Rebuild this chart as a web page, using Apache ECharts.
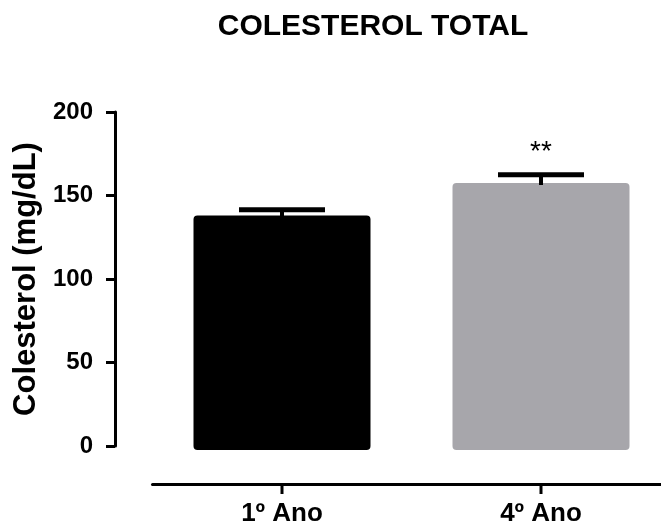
<!DOCTYPE html>
<html>
<head>
<meta charset="utf-8">
<script src="https://cdn.jsdelivr.net/npm/echarts@6/dist/echarts.min.js"></script>
<style>
html,body{margin:0;padding:0;background:#fff;}
#c{width:661px;height:526px;}
</style>
</head>
<body>
<div id="c"></div>
<script>
const categories = ['1º Ano', '4º Ano'];
const means = [138, 157.5];
const errors = [3.5, 5];
const marks = ['', '**'];
const barColors = ['#000000', '#a7a6ab'];
const yTicks = [0, 50, 100, 150, 200];

const FONT = '"Liberation Sans", Arial, sans-serif';
const X_OFFSET = 38;
const chart = echarts.init(document.getElementById('c'));

const barData = categories.map((c, i) => [i, means[i]]);
const errData = categories.map((c, i) => [i, means[i], means[i] + errors[i], marks[i]]);

chart.setOption({
  animation: false,
  backgroundColor: '#fff',
  title: {
    text: 'COLESTEROL TOTAL',
    left: 368, top: 7, textAlign: 'center',
    textStyle: { fontFamily: FONT, fontWeight: 'bold', fontSize: 30, color: '#000' }
  },
  grid: { left: 152.5, width: 518, top: 112, height: 334, containLabel: false, outerBoundsMode: 'none' },
  xAxis: {
    type: 'category',
    data: categories,
    offset: X_OFFSET,
    axisLine: { onZero: false, lineStyle: { color: '#000', width: 3 } },
    axisTick: { show: false },
    axisLabel: { margin: 17, color: '#000', fontFamily: FONT, fontWeight: 'bold', fontSize: 26 }
  },
  yAxis: {
    type: 'value',
    min: yTicks[0], max: yTicks[yTicks.length - 1], interval: 50,
    offset: 37.5,
    name: 'Colesterol (mg/dL)',
    nameLocation: 'middle',
    nameGap: 69,
    nameTextStyle: { fontFamily: FONT, fontWeight: 'bold', fontSize: 31, color: '#000' },
    splitLine: { show: false },
    axisLine: { show: true, onZero: false, lineStyle: { color: '#000', width: 3 } },
    axisTick: { show: true, length: 9, lineStyle: { color: '#000', width: 3 } },
    axisLabel: { margin: 22, color: '#000', fontFamily: FONT, fontWeight: 'bold', fontSize: 24 }
  },
  series: [
    {
      type: 'custom',
      data: barData,
      clip: false,
      renderItem: function (params, api) {
        const i = api.value(0);
        const top = api.coord([i, api.value(1)]);
        const base = api.coord([i, 0]);
        return {
          type: 'group',
          children: [
            {
              type: 'rect',
              shape: { x: top[0] - 88.5, y: top[1], width: 177, height: base[1] - top[1] + 4, r: 4 },
              style: { fill: barColors[i] }
            },
            {
              // centred category tick on the offset x axis
              type: 'line',
              shape: { x1: base[0], y1: base[1] + X_OFFSET, x2: base[0], y2: base[1] + X_OFFSET + 10 },
              style: { stroke: '#000', lineWidth: 3 }
            }
          ]
        };
      },
      z: 2
    },
    {
      type: 'custom',
      data: errData,
      clip: false,
      renderItem: function (params, api) {
        const i = api.value(0);
        const m = api.coord([i, api.value(1)]);
        const e = api.coord([i, api.value(2)]);
        const children = [
          { type: 'line', shape: { x1: m[0], y1: m[1] + 2, x2: e[0], y2: e[1] }, style: { stroke: '#000', lineWidth: 4 } },
          { type: 'line', shape: { x1: e[0] - 43, y1: e[1], x2: e[0] + 43, y2: e[1] }, style: { stroke: '#000', lineWidth: 5 } }
        ];
        const t = marks[i];
        if (t) {
          children.push({
            type: 'text',
            style: { text: t, x: e[0], y: e[1] - 22, textAlign: 'center', textVerticalAlign: 'middle',
                     fill: '#000', font: 'normal 28px ' + FONT }
          });
        }
        return { type: 'group', children: children };
      },
      z: 3
    }
  ]
});
</script>
</body>
</html>
